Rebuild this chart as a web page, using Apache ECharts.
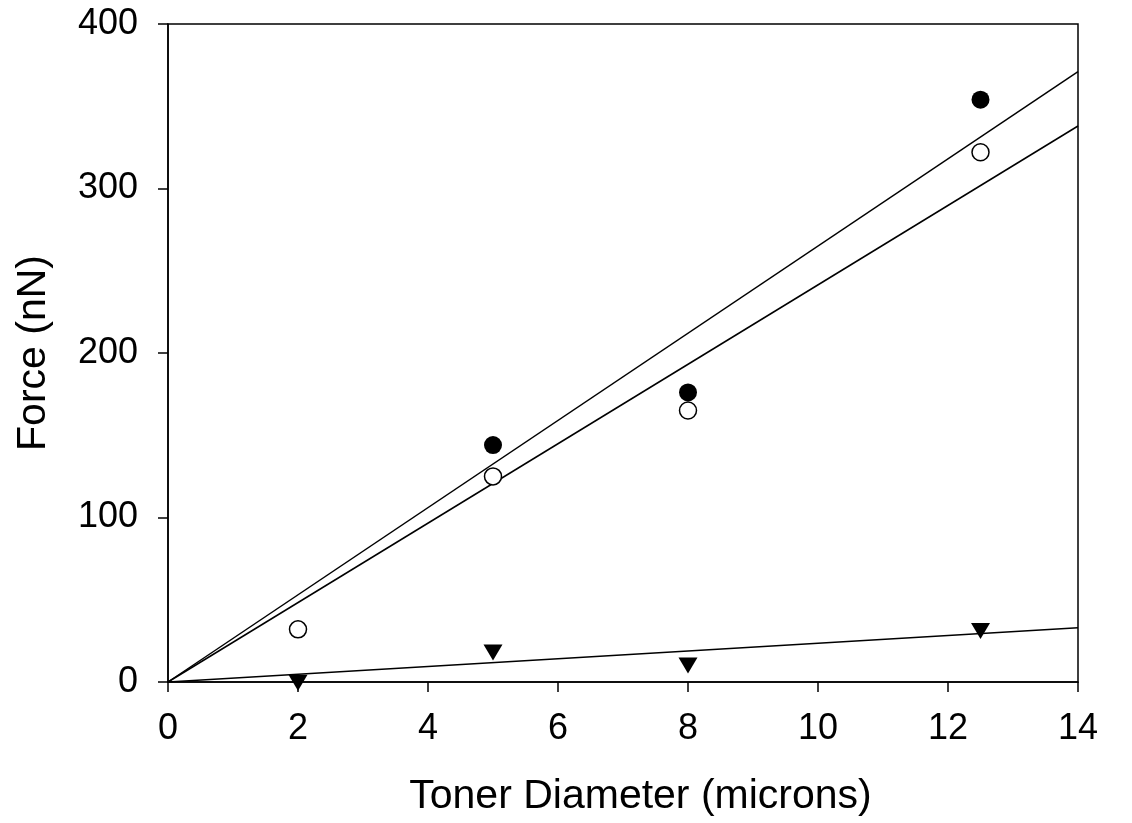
<!DOCTYPE html>
<html>
<head>
<meta charset="utf-8">
<script src="https://cdn.jsdelivr.net/npm/echarts@6/dist/echarts.min.js"></script>
<style>
html,body{margin:0;padding:0;background:#fff;}
#chart{width:1132px;height:823px;}
</style>
</head>
<body>
<div id="chart"></div>
<script>
// Data
var diameters = [2, 5, 8, 12.5];
var filledX = [5, 8, 12.5];
var filledForce = [144, 176, 354];
var openForce = [32, 125, 165, 322];
var triangleForce = [-0.5, 18, 10, 31];
// Regression lines through origin: [x, y] endpoints
var fitFilled = [[0, 0], [14, 371]];
var fitOpen = [[0, 0], [14, 338]];
var fitTriangle = [[0, 0], [14, 33]];
var xTicks = [0, 2, 4, 6, 8, 10, 12, 14];
var yTicks = [0, 100, 200, 300, 400];

function pairs(xs, ys) { return xs.map(function (x, i) { return [x, ys[i]]; }); }

var font = 'Liberation Sans, Arial, sans-serif';
var chart = echarts.init(document.getElementById('chart'), null, {renderer: 'canvas'});
var lineStyle = {color: '#000', width: 1.5};

chart.setOption({
  backgroundColor: '#fff',
  animation: false,
  grid: {left: 168, right: 54, top: 24, bottom: 141, show: true, borderColor: '#000', borderWidth: 1.5, backgroundColor: 'transparent'},
  xAxis: {
    type: 'value', min: 0, max: 14, interval: 2,
    name: 'Toner Diameter (microns)', nameLocation: 'middle', nameGap: 94,
    nameTextStyle: {fontFamily: font, fontSize: 41, color: '#000', verticalAlign: 'top', padding: [0, 0, 0, 35]},
    axisLine: {show: true, onZero: false, lineStyle: {color: '#000', width: 1.5}},
    axisTick: {show: true, inside: false, length: 10, lineStyle: {color: '#000', width: 1.5}},
    axisLabel: {fontFamily: font, fontSize: 36, color: '#000', margin: 29},
    splitLine: {show: false}
  },
  yAxis: {
    type: 'value', min: 0, max: 400, interval: 100,
    name: 'Force (nN)', nameLocation: 'middle', nameGap: 114,
    nameTextStyle: {fontFamily: font, fontSize: 41, color: '#000'},
    axisLine: {show: true, onZero: false, lineStyle: {color: '#000', width: 1.5}},
    axisTick: {show: true, inside: false, length: 10, lineStyle: {color: '#000', width: 1.5}},
    axisLabel: {fontFamily: font, fontSize: 36, color: '#000', margin: 30},
    splitLine: {show: false}
  },
  series: [
    {type: 'line', data: fitFilled, showSymbol: false, lineStyle: lineStyle, z: 2, silent: true},
    {type: 'line', data: fitOpen, showSymbol: false, lineStyle: lineStyle, z: 2, silent: true},
    {type: 'line', data: fitTriangle, showSymbol: false, lineStyle: lineStyle, z: 2, silent: true},
    {type: 'scatter', data: pairs(filledX, filledForce), symbol: 'circle', symbolSize: 18, clip: false,
      itemStyle: {color: '#000', opacity: 1}, z: 5},
    {type: 'scatter', data: pairs(diameters, openForce), symbol: 'circle', symbolSize: 17, clip: false,
      itemStyle: {color: '#fff', borderColor: '#000', borderWidth: 1.5, opacity: 1}, z: 5},
    {type: 'scatter', data: pairs(diameters, triangleForce), symbol: 'triangle', symbolRotate: 180, symbolSize: [19, 16], clip: false,
      itemStyle: {color: '#000', opacity: 1}, z: 5}
  ]
});
</script>
</body>
</html>
